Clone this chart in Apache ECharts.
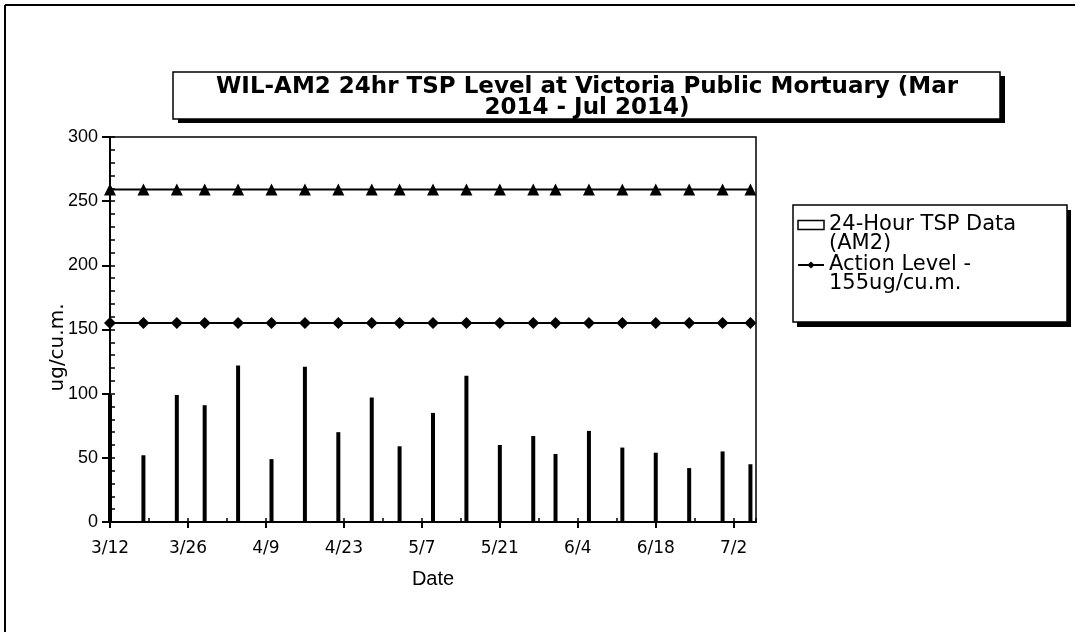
<!DOCTYPE html>
<html><head><meta charset="utf-8">
<script src="https://cdn.jsdelivr.net/npm/echarts@6/dist/echarts.min.js"></script>
<style>html,body{margin:0;padding:0;background:#fff}#c{width:1078px;height:632px}</style>
</head><body><div id="c"></div>
<script>
// ---- data ----
const startDate = '2014-03-12';
const sampleDates = ['2014-03-12','2014-03-18','2014-03-24','2014-03-29','2014-04-04','2014-04-10','2014-04-16',
  '2014-04-22','2014-04-28','2014-05-03','2014-05-09','2014-05-15','2014-05-21','2014-05-27','2014-05-31',
  '2014-06-06','2014-06-12','2014-06-18','2014-06-24','2014-06-30','2014-07-05'];
const tspValues = [99, 52, 99, 91, 122, 49, 121, 70, 97, 59, 85, 114, 60, 67, 53, 71, 58, 54, 42, 55, 45];
const actionLevel = [155,155,155,155,155,155,155,155,155,155,155,155,155,155,155,155,155,155,155,155,155];
const limitLevel = [259,259,259,259,259,259,259,259,259,259,259,259,259,259,259,259,259,259,259,259,259];
const xTickLabels = ['3/12','3/26','4/9','4/23','5/7','5/21','6/4','6/18','7/2'];
const yTickLabels = ['0','50','100','150','200','250','300'];
const seriesNames = ['24-Hour TSP Data (AM2)', 'Action Level - 155ug/cu.m.', 'Limit Level'];
const legendTexts = ['24-Hour TSP Data\n(AM2)', 'Action Level -\n155ug/cu.m.'];
const titleText = 'WIL-AM2 24hr TSP Level at Victoria Public Mortuary (Mar\n2014 - Jul 2014)';

function dayOffset(s) {
  const p = s.split('-').map(Number), q = startDate.split('-').map(Number);
  return Math.round((Date.UTC(p[0], p[1]-1, p[2]) - Date.UTC(q[0], q[1]-1, q[2])) / 86400000);
}
const xs = sampleDates.map(dayOffset);
const pairs = arr => arr.map((v, i) => [xs[i], v]);

const FONT = 'Liberation Sans';
const WIDE = 'DejaVu Sans';
const chart = echarts.init(document.getElementById('c'), null, {renderer: 'canvas'});
chart.setOption({
  animation: false,
  backgroundColor: '#fff',
  title: {
    text: titleText,
    left: 587, top: 77, textAlign: 'center', padding: 0,
    textStyle: {fontFamily: WIDE, fontSize: 23, fontWeight: 'bold', color: '#000', lineHeight: 21}
  },
  legend: {
    orient: 'vertical', left: 797, top: 195.5, padding: 0,
    itemGap: -19, itemWidth: 26, itemHeight: 9,
    data: [
      {name: seriesNames[0], icon: 'rect', itemStyle: {color: '#fff', borderColor: '#000', borderWidth: 1.5}},
      {name: seriesNames[1]}
    ],
    formatter: n => '\n' + legendTexts[seriesNames.indexOf(n)],
    textStyle: {fontFamily: WIDE, fontSize: 21, color: '#000', lineHeight: 19}
  },
  grid: {left: 110, top: 137, right: 322, bottom: 110, show: true, borderColor: '#000', borderWidth: 1.5, backgroundColor: 'transparent'},
  xAxis: [{
    type: 'value', min: 0, max: 116, interval: 14, position: 'bottom',
    name: 'Date', nameLocation: 'middle', nameGap: 47, nameMoveOverlap: false,
    nameTextStyle: {fontFamily: FONT, fontSize: 20, color: '#000'},
    axisLine: {show: true, lineStyle: {color: '#000', width: 2}},
    axisTick: {show: true, length: 6, lineStyle: {color: '#000', width: 2}},
    axisLabel: {fontFamily: WIDE, fontSize: 17, color: '#000', margin: 18, showMaxLabel: false,
      formatter: v => (v % 14 === 0 ? (xTickLabels[v / 14] || '') : '')},
    splitLine: {show: false}
  }, {
    type: 'value', min: 0, max: 116, interval: 7, position: 'bottom',
    axisLine: {show: false}, axisLabel: {show: false}, splitLine: {show: false},
    axisTick: {show: true, inside: true, length: 4, lineStyle: {color: '#000', width: 1.5}}
  }],
  yAxis: [{
    type: 'value', min: 0, max: 300, interval: 50, position: 'left',
    name: 'ug/cu.m.', nameLocation: 'middle', nameGap: 42, nameMoveOverlap: false,
    nameTextStyle: {fontFamily: WIDE, fontSize: 20, color: '#000', padding: [0, 36, 0, 0]},
    axisLine: {show: true, lineStyle: {color: '#000', width: 2}},
    axisTick: {show: true, length: 8, lineStyle: {color: '#000', width: 2}},
    axisLabel: {fontFamily: FONT, fontSize: 18, color: '#000', margin: 12,
      formatter: v => yTickLabels[v / 50]},
    splitLine: {show: false}
  }, {
    type: 'value', min: 0, max: 300, interval: 10, position: 'left',
    axisLine: {show: false}, axisLabel: {show: false}, splitLine: {show: false},
    axisTick: {show: true, inside: true, length: 5, lineStyle: {color: '#000', width: 1.5}}
  }],
  graphic: [
    {type: 'line', z: 1, shape: {x1: 5, y1: 5, x2: 1075, y2: 5}, style: {stroke: '#000', lineWidth: 2}},
    {type: 'line', z: 1, shape: {x1: 5, y1: 5, x2: 5, y2: 632}, style: {stroke: '#000', lineWidth: 2}},
    // title box + shadow
    {type: 'rect', z: 1, shape: {x: 178, y: 76, width: 827, height: 47}, style: {fill: '#000'}},
    {type: 'rect', z: 2, shape: {x: 173, y: 72, width: 827, height: 47}, style: {fill: '#fff', stroke: '#000', lineWidth: 1.5}},
    // legend box + shadow
    {type: 'rect', z: 1, shape: {x: 797, y: 210, width: 274, height: 117}, style: {fill: '#000'}},
    {type: 'rect', z: 2, shape: {x: 793, y: 205, width: 274, height: 117}, style: {fill: '#fff', stroke: '#000', lineWidth: 1.5}}
  ],
  series: [
    {name: seriesNames[0], type: 'bar', data: pairs(tspValues), barWidth: 4, itemStyle: {color: '#000'}},
    {name: seriesNames[1], type: 'line', data: pairs(actionLevel), symbol: 'diamond', symbolSize: 12,
      lineStyle: {color: '#000', width: 2}, itemStyle: {color: '#000'}},
    {name: seriesNames[2], type: 'line', data: pairs(limitLevel), symbol: 'triangle', symbolSize: 12,
      lineStyle: {color: '#000', width: 2}, itemStyle: {color: '#000'}}
  ]
});
</script></body></html>
